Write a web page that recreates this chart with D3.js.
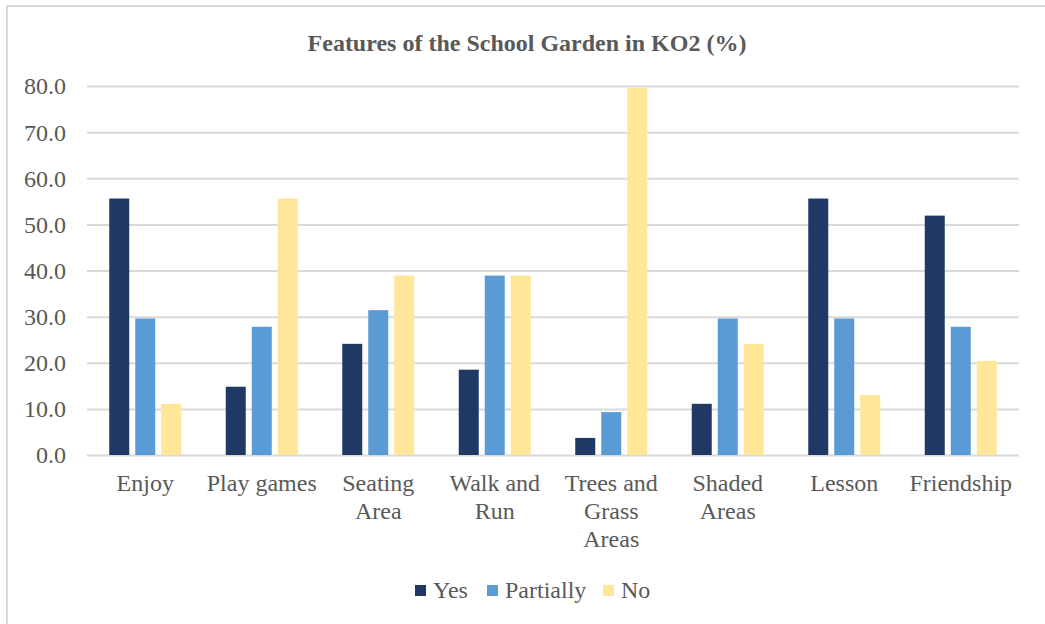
<!DOCTYPE html>
<html>
<head>
<meta charset="utf-8">
<script src="https://cdn.jsdelivr.net/npm/d3@7"></script>
<style>
  html, body { margin: 0; padding: 0; background: #fff; }
  svg { display: block; }
  text { font-family: "Liberation Serif", Tinos, "Times New Roman", "DejaVu Serif", serif; fill: #595959; }
</style>
</head>
<body>
<script>
const categories = ["Enjoy", "Play games", "Seating\nArea", "Walk and\nRun", "Trees and\nGrass\nAreas", "Shaded\nAreas", "Lesson", "Friendship"];
const seriesNames = ["Yes", "Partially", "No"];
const yesValues = [55.6, 14.8, 24.1, 18.5, 3.7, 11.1, 55.6, 51.9];
const partiallyValues = [29.6, 27.8, 31.4, 38.9, 9.3, 29.6, 29.6, 27.8];
const noValues = [11.1, 55.6, 38.9, 38.9, 79.6, 24.1, 13.0, 20.4];
const yTicks = [0, 10, 20, 30, 40, 50, 60, 70, 80];
const colors = ["#1F3864", "#5B9BD5", "#FFE699"];
const title = "Features of the School Garden in KO2 (%)";

(function () {
const W = 1045, H = 624;
const FONT = '"Liberation Serif", Tinos, "Times New Roman", "DejaVu Serif", serif';
const svg = d3.select("body").append("svg").attr("width", W).attr("height", H);

// outer chart border (only top and left visible)
svg.append("rect").attr("x", 7).attr("y", 6).attr("width", W + 20).attr("height", H + 20)
  .attr("fill", "none").attr("stroke", "#d9d9d9").attr("stroke-width", 2);

svg.append("text").attr("x", 527).attr("y", 51).attr("text-anchor", "middle")
  .style("font-size", "24px").style("font-weight", "bold").style("font-family", FONT).text(title);

const pLeft = 87, pRight = 1019, pTop = 86, pBottom = 455;
const y = d3.scaleLinear().domain([0, 80]).range([pBottom, pTop]);
const x0 = d3.scaleBand().domain(categories).range([pLeft, pRight]).paddingInner(0.382).paddingOuter(0.191);
const x1 = d3.scaleBand().domain(seriesNames).range([0, x0.bandwidth()]).paddingInner(0.2308).paddingOuter(0);

// gridlines
const yAxis = d3.axisLeft(y).tickValues(yTicks).tickSize(-(pRight - pLeft)).tickFormat(d => d.toFixed(1)).tickPadding(21);
const gy = svg.append("g").attr("transform", `translate(${pLeft},0)`).call(yAxis);
gy.select(".domain").remove();
gy.selectAll(".tick line").attr("stroke", "#d9d9d9").attr("stroke-width", 2);
gy.selectAll(".tick text").style("font-size", "24px").attr("fill", "#595959").attr("dy", "0.33em")
  .style("font-family", FONT);

const data = [yesValues, partiallyValues, noValues];
const groups = svg.append("g").selectAll("g").data(categories).join("g")
  .attr("transform", d => `translate(${x0(d)},0)`);
groups.selectAll("rect").data((d, i) => seriesNames.map((s, j) => ({ s, v: data[j][i], c: colors[j] })))
  .join("rect")
  .attr("x", d => x1(d.s)).attr("width", x1.bandwidth())
  .attr("y", d => y(d.v)).attr("height", d => y(0) - y(d.v))
  .attr("fill", d => d.c);

// x axis labels
const xAxis = d3.axisBottom(x0).tickSize(0).tickFormat("");
const gx = svg.append("g").attr("transform", `translate(0,${pBottom})`).call(xAxis);
gx.select(".domain").remove();
gx.selectAll(".tick text").remove();
gx.selectAll(".tick").each(function(d) {
  const t = d3.select(this).append("text").attr("text-anchor", "middle").style("font-size", "24px")
    .attr("fill", "#595959").style("font-family", FONT);
  d.split("\n").forEach((line, i) => {
    t.append("tspan").attr("x", 0).attr("y", 36 + i * 28).text(line);
  });
});

// legend
const legendX = [415, 487, 603];
const lg = svg.append("g");
seriesNames.forEach((s, i) => {
  lg.append("rect").attr("x", legendX[i]).attr("y", 585).attr("width", 11).attr("height", 11).attr("fill", colors[i]);
  lg.append("text").attr("x", legendX[i] + 18).attr("y", 598).style("font-size", "24px")
    .style("font-family", FONT).text(s);
});
})();
</script>
</body>
</html>
